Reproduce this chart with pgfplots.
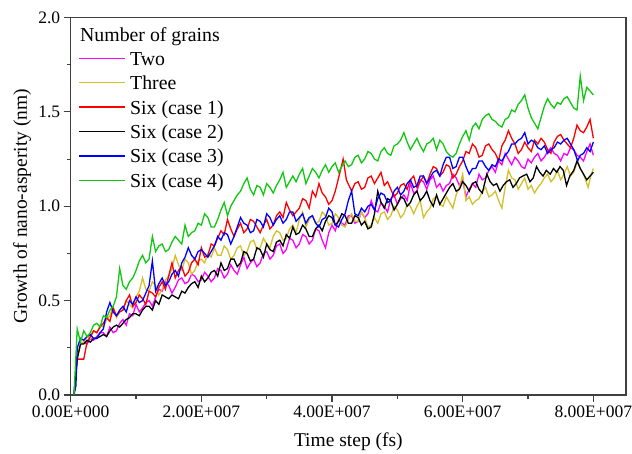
\documentclass[border=0pt]{standalone}
\usepackage{fontspec}
\setmainfont{Liberation Serif}
\usepackage{pgfplots}
\usepackage{pgfplotstable}
\pgfplotsset{compat=1.18}

\definecolor{cTwo}{HTML}{FF00FF}
\definecolor{cThree}{HTML}{D2C02C}
\definecolor{cSixA}{HTML}{FF0000}
\definecolor{cSixB}{HTML}{000000}
\definecolor{cSixC}{HTML}{0000FF}
\definecolor{cSixD}{HTML}{10C810}
\definecolor{axisgray}{HTML}{404040}

% time step t in units of 1e7 fs, growth g in nm
\pgfplotstableread{
t g
0.05 0.00
0.10 0.20
0.15 0.27
0.20 0.28
0.25 0.27
0.30 0.30
0.35 0.29
0.40 0.31
0.45 0.33
0.50 0.33
0.55 0.31
0.60 0.36
0.65 0.33
0.70 0.34
0.75 0.38
0.80 0.40
0.85 0.37
0.90 0.43
0.95 0.42
1.00 0.48
1.05 0.44
1.10 0.46
1.15 0.49
1.20 0.50
1.25 0.47
1.30 0.52
1.35 0.56
1.40 0.55
1.45 0.60
1.50 0.58
1.55 0.54
1.60 0.57
1.65 0.61
1.70 0.62
1.75 0.59
1.80 0.60
1.85 0.64
1.90 0.63
1.95 0.60
2.00 0.61
2.05 0.65
2.10 0.63
2.15 0.60
2.20 0.62
2.25 0.67
2.30 0.66
2.35 0.62
2.40 0.64
2.45 0.69
2.50 0.66
2.55 0.64
2.60 0.69
2.65 0.73
2.70 0.67
2.75 0.70
2.80 0.72
2.85 0.68
2.90 0.70
2.95 0.75
3.00 0.76
3.05 0.72
3.10 0.74
3.15 0.79
3.20 0.80
3.25 0.75
3.30 0.77
3.35 0.83
3.40 0.82
3.45 0.78
3.50 0.80
3.55 0.85
3.60 0.84
3.65 0.80
3.70 0.82
3.75 0.88
3.80 0.87
3.85 0.82
3.90 0.78
3.95 0.86
4.00 0.90
4.05 0.87
4.10 0.93
4.15 0.91
4.20 0.90
4.25 0.95
4.30 0.95
4.35 0.91
4.40 0.92
4.45 0.97
4.50 0.94
4.55 0.96
4.60 1.03
4.65 0.98
4.70 0.97
4.75 1.02
4.80 1.00
4.85 0.97
4.90 1.04
4.95 1.06
5.00 1.01
5.05 1.04
5.10 1.06
5.15 1.03
5.20 1.12
5.25 1.07
5.30 1.08
5.35 1.14
5.40 1.13
5.45 1.09
5.50 1.14
5.55 1.16
5.60 1.10
5.65 1.12
5.70 1.08
5.75 1.11
5.80 1.12
5.85 1.17
5.90 1.15
5.95 1.11
6.00 1.14
6.05 1.05
6.10 1.09
6.15 1.12
6.20 1.10
6.25 1.17
6.30 1.14
6.35 1.15
6.40 1.19
6.45 1.21
6.50 1.18
6.55 1.24
6.60 1.22
6.65 1.28
6.70 1.25
6.75 1.22
6.80 1.26
6.85 1.24
6.90 1.21
6.95 1.20
7.00 1.25
7.05 1.23
7.10 1.26
7.15 1.28
7.20 1.24
7.25 1.26
7.30 1.29
7.35 1.31
7.40 1.28
7.45 1.27
7.50 1.24
7.55 1.28
7.60 1.27
7.65 1.31
7.70 1.30
7.75 1.27
7.80 1.26
7.85 1.24
7.90 1.29
7.95 1.33
8.00 1.27
}\dataTwo

\pgfplotstableread{
t g
0.05 0.00
0.10 0.22
0.15 0.27
0.20 0.28
0.25 0.31
0.30 0.30
0.35 0.34
0.40 0.33
0.45 0.37
0.50 0.36
0.55 0.40
0.60 0.42
0.65 0.47
0.70 0.41
0.75 0.44
0.80 0.45
0.85 0.50
0.90 0.48
0.95 0.46
1.00 0.52
1.05 0.55
1.10 0.62
1.15 0.56
1.20 0.55
1.25 0.60
1.30 0.58
1.35 0.53
1.40 0.56
1.45 0.61
1.50 0.63
1.55 0.67
1.60 0.74
1.65 0.69
1.70 0.66
1.75 0.72
1.80 0.70
1.85 0.64
1.90 0.66
1.95 0.71
2.00 0.72
2.05 0.70
2.10 0.75
2.15 0.73
2.20 0.78
2.25 0.74
2.30 0.74
2.35 0.79
2.40 0.77
2.45 0.72
2.50 0.74
2.55 0.78
2.60 0.79
2.65 0.74
2.70 0.76
2.75 0.81
2.80 0.82
2.85 0.77
2.90 0.78
2.95 0.83
3.00 0.80
3.05 0.78
3.10 0.84
3.15 0.87
3.20 0.86
3.25 0.82
3.30 0.83
3.35 0.88
3.40 0.90
3.45 0.86
3.50 0.93
3.55 0.97
3.60 0.89
3.65 0.93
3.70 0.95
3.75 0.91
3.80 0.92
3.85 0.97
3.90 0.95
3.95 0.90
4.00 0.91
4.05 0.96
4.10 0.94
4.15 0.90
4.20 0.89
4.25 0.93
4.30 0.96
4.35 0.92
4.40 0.92
4.45 0.97
4.50 0.94
4.55 0.89
4.60 0.90
4.65 0.94
4.70 0.91
4.75 0.96
4.80 0.97
4.85 0.93
4.90 0.95
4.95 1.00
5.00 0.98
5.05 0.94
5.10 0.96
5.15 1.01
5.20 1.00
5.25 0.96
5.30 1.00
5.35 1.03
5.40 0.94
5.45 0.97
5.50 0.99
5.55 1.04
5.60 1.05
5.65 1.01
5.70 1.00
5.75 1.05
5.80 1.02
5.85 0.99
5.90 1.06
5.95 1.10
6.00 1.17
6.05 1.03
6.10 1.05
6.15 1.01
6.20 1.03
6.25 1.04
6.30 1.08
6.35 1.10
6.40 1.05
6.45 1.06
6.50 1.08
6.55 1.03
6.60 0.99
6.65 1.10
6.70 1.19
6.75 1.15
6.80 1.14
6.85 1.09
6.90 1.12
6.95 1.15
7.00 1.09
7.05 1.11
7.10 1.07
7.15 1.10
7.20 1.12
7.25 1.15
7.30 1.17
7.35 1.13
7.40 1.15
7.45 1.19
7.50 1.14
7.55 1.17
7.60 1.21
7.65 1.16
7.70 1.18
7.76 1.24
7.80 1.20
7.85 1.17
7.92 1.10
7.96 1.16
8.00 1.20
}\dataThree

\pgfplotstableread{
t g
0.05 0.00
0.10 0.19
0.20 0.19
0.25 0.28
0.30 0.31
0.35 0.34
0.40 0.33
0.45 0.36
0.50 0.38
0.55 0.41
0.60 0.39
0.65 0.46
0.70 0.42
0.75 0.44
0.80 0.45
0.85 0.50
0.90 0.53
0.95 0.47
1.00 0.49
1.05 0.53
1.10 0.51
1.15 0.48
1.20 0.55
1.25 0.54
1.30 0.52
1.35 0.57
1.40 0.60
1.45 0.56
1.50 0.63
1.55 0.70
1.60 0.62
1.65 0.66
1.70 0.68
1.75 0.63
1.80 0.65
1.85 0.70
1.90 0.72
1.95 0.69
2.00 0.78
2.05 0.73
2.10 0.74
2.15 0.80
2.20 0.79
2.25 0.83
2.30 0.87
2.35 0.85
2.40 0.93
2.45 0.88
2.50 0.84
2.55 0.88
2.60 0.91
2.65 0.86
2.70 0.88
2.75 0.93
2.80 0.92
2.85 0.89
2.90 0.86
2.95 0.90
3.00 0.93
3.05 0.88
3.10 0.90
3.15 0.95
3.20 0.97
3.25 0.94
3.30 1.02
3.35 0.98
3.40 0.95
3.45 0.97
3.50 0.99
3.55 1.04
3.60 1.03
3.65 0.99
3.70 1.08
3.75 1.05
3.80 1.12
3.85 1.07
3.90 1.05
3.95 1.01
4.00 1.03
4.05 1.08
4.10 1.15
4.17 1.25
4.22 1.14
4.30 1.08
4.35 1.12
4.40 1.13
4.45 1.09
4.50 1.10
4.55 1.15
4.60 1.16
4.65 1.12
4.70 1.15
4.75 1.18
4.80 1.11
4.85 1.13
4.90 1.09
4.95 1.05
5.00 1.07
5.05 1.11
5.10 1.12
5.15 1.09
5.20 1.14
5.25 1.16
5.30 1.10
5.35 1.13
5.40 1.16
5.45 1.12
5.50 1.17
5.55 1.21
5.60 1.20
5.65 1.16
5.70 1.18
5.75 1.22
5.80 1.21
5.85 1.15
5.90 1.17
5.95 1.21
6.00 1.24
6.05 1.29
6.10 1.28
6.15 1.33
6.20 1.31
6.25 1.26
6.30 1.27
6.35 1.32
6.40 1.33
6.45 1.30
6.50 1.28
6.55 1.24
6.60 1.32
6.65 1.35
6.70 1.40
6.75 1.36
6.80 1.33
6.85 1.28
6.90 1.30
6.95 1.34
7.00 1.31
7.05 1.29
7.10 1.35
7.15 1.33
7.20 1.36
7.25 1.34
7.30 1.30
7.35 1.28
7.40 1.34
7.45 1.37
7.50 1.38
7.55 1.35
7.60 1.33
7.65 1.31
7.70 1.36
7.75 1.43
7.80 1.40
7.85 1.39
7.90 1.42
7.95 1.46
8.00 1.36
}\dataSixA

\pgfplotstableread{
t g
0.05 0.00
0.10 0.19
0.15 0.27
0.20 0.27
0.25 0.29
0.30 0.28
0.35 0.30
0.40 0.30
0.45 0.31
0.50 0.32
0.55 0.31
0.60 0.34
0.65 0.36
0.70 0.37
0.75 0.36
0.80 0.38
0.85 0.40
0.90 0.41
0.95 0.43
1.00 0.43
1.05 0.42
1.10 0.45
1.15 0.47
1.20 0.47
1.25 0.45
1.30 0.50
1.35 0.48
1.40 0.53
1.45 0.52
1.50 0.51
1.55 0.53
1.60 0.52
1.65 0.51
1.70 0.55
1.75 0.54
1.80 0.57
1.85 0.59
1.90 0.60
1.95 0.57
2.00 0.63
2.05 0.60
2.10 0.62
2.15 0.65
2.20 0.66
2.25 0.63
2.30 0.70
2.35 0.66
2.40 0.67
2.45 0.72
2.50 0.72
2.55 0.68
2.60 0.70
2.65 0.76
2.70 0.75
2.75 0.71
2.80 0.72
2.85 0.78
2.90 0.77
2.95 0.73
3.00 0.80
3.05 0.77
3.10 0.76
3.15 0.81
3.20 0.82
3.25 0.79
3.30 0.85
3.35 0.83
3.40 0.89
3.45 0.85
3.50 0.86
3.55 0.90
3.60 0.88
3.65 0.84
3.70 0.84
3.75 0.88
3.80 0.90
3.85 0.87
3.90 0.92
3.95 0.95
4.00 0.94
4.05 0.90
4.10 0.92
4.15 0.96
4.20 0.95
4.25 0.91
4.30 0.91
4.35 0.95
4.40 0.94
4.45 0.90
4.50 0.92
4.55 0.88
4.60 0.89
4.65 0.96
4.70 1.08
4.75 1.02
4.80 0.99
4.85 1.04
4.90 1.03
4.95 0.98
5.00 1.01
5.05 1.05
5.10 1.04
5.15 1.00
5.20 1.02
5.25 1.06
5.30 1.08
5.35 1.03
5.40 1.05
5.45 1.08
5.50 1.03
5.55 1.00
5.60 1.06
5.65 1.01
5.70 1.04
5.75 1.07
5.80 1.10
5.85 1.12
5.90 1.08
5.95 1.09
6.00 1.13
6.05 1.11
6.10 1.08
6.15 1.12
6.20 1.13
6.25 1.09
6.30 1.07
6.37 1.17
6.42 1.13
6.47 1.11
6.52 1.12
6.57 1.08
6.62 1.11
6.67 1.13
6.72 1.14
6.77 1.10
6.82 1.12
6.87 1.15
6.92 1.16
6.98 1.17
7.03 1.13
7.08 1.15
7.13 1.21
7.18 1.18
7.23 1.16
7.28 1.19
7.34 1.17
7.39 1.20
7.44 1.18
7.49 1.21
7.54 1.19
7.59 1.11
7.64 1.16
7.70 1.19
7.75 1.24
7.80 1.20
7.85 1.17
7.90 1.14
7.95 1.16
8.00 1.18
}\dataSixB

\pgfplotstableread{
t g
0.05 0.00
0.08 0.05
0.10 0.25
0.15 0.30
0.20 0.29
0.25 0.31
0.30 0.32
0.35 0.30
0.40 0.30
0.45 0.33
0.50 0.35
0.55 0.44
0.60 0.49
0.65 0.44
0.70 0.42
0.75 0.45
0.80 0.47
0.85 0.44
0.90 0.50
0.95 0.48
1.00 0.52
1.05 0.49
1.10 0.50
1.15 0.54
1.20 0.58
1.25 0.71
1.30 0.55
1.35 0.59
1.40 0.62
1.45 0.58
1.50 0.60
1.55 0.64
1.60 0.66
1.65 0.63
1.70 0.70
1.75 0.73
1.80 0.78
1.85 0.74
1.90 0.72
1.95 0.76
2.00 0.77
2.05 0.75
2.10 0.73
2.15 0.76
2.20 0.79
2.25 0.84
2.30 0.82
2.35 0.86
2.40 0.85
2.45 0.80
2.50 0.84
2.55 0.89
2.60 0.94
2.65 0.91
2.70 0.90
2.75 0.86
2.80 0.87
2.85 0.93
2.90 0.92
2.95 0.89
3.00 0.96
3.05 0.94
3.10 0.90
3.15 0.93
3.20 0.95
3.25 0.91
3.30 0.93
3.35 0.97
3.40 0.97
3.45 0.92
3.50 0.94
3.55 0.96
3.60 0.91
3.65 0.94
3.70 0.95
3.75 0.91
3.80 0.89
3.85 0.93
3.90 0.94
3.95 0.99
4.00 0.97
4.05 0.90
4.10 0.89
4.15 0.93
4.20 0.96
4.25 1.03
4.30 1.08
4.35 0.96
4.40 0.95
4.45 0.99
4.50 0.97
4.55 1.00
4.60 1.01
4.65 0.98
4.70 1.04
4.75 1.07
4.80 1.06
4.85 1.02
4.90 1.03
4.95 1.08
5.00 1.10
5.05 1.06
5.10 1.08
5.15 1.12
5.20 1.14
5.25 1.10
5.30 1.11
5.35 1.16
5.40 1.16
5.45 1.12
5.50 1.15
5.55 1.18
5.60 1.19
5.65 1.16
5.70 1.22
5.75 1.26
5.80 1.26
5.85 1.20
5.90 1.21
5.95 1.26
6.00 1.26
6.05 1.21
6.10 1.17
6.15 1.20
6.20 1.20
6.25 1.24
6.30 1.24
6.35 1.21
6.40 1.19
6.45 1.22
6.50 1.21
6.55 1.25
6.60 1.24
6.65 1.27
6.70 1.29
6.75 1.33
6.80 1.33
6.85 1.35
6.90 1.36
6.95 1.39
7.00 1.33
7.05 1.35
7.10 1.34
7.15 1.31
7.20 1.30
7.25 1.32
7.30 1.28
7.35 1.30
7.40 1.31
7.45 1.34
7.50 1.33
7.55 1.35
7.60 1.36
7.65 1.33
7.70 1.30
7.76 1.24
7.80 1.27
7.85 1.28
7.90 1.31
7.95 1.29
8.00 1.34
}\dataSixC

\pgfplotstableread{
t g
0.05 0.00
0.10 0.35
0.15 0.28
0.20 0.34
0.25 0.31
0.30 0.33
0.35 0.37
0.40 0.38
0.45 0.36
0.50 0.42
0.55 0.41
0.60 0.45
0.65 0.47
0.70 0.52
0.75 0.67
0.80 0.58
0.85 0.56
0.90 0.60
0.95 0.62
1.00 0.66
1.05 0.71
1.10 0.74
1.15 0.70
1.20 0.72
1.25 0.84
1.30 0.76
1.35 0.79
1.40 0.80
1.45 0.76
1.50 0.77
1.55 0.81
1.60 0.84
1.65 0.82
1.70 0.80
1.75 0.90
1.80 0.84
1.85 0.86
1.90 0.87
1.95 0.91
2.00 0.90
2.05 0.96
2.10 0.94
2.15 0.89
2.20 0.89
2.25 0.93
2.30 0.98
2.35 1.02
2.40 0.95
2.45 1.00
2.50 1.03
2.55 1.06
2.60 1.08
2.65 1.12
2.70 1.15
2.75 1.09
2.80 1.06
2.85 1.11
2.90 1.10
2.95 1.06
3.00 1.12
3.05 1.10
3.10 1.07
3.15 1.11
3.20 1.14
3.25 1.18
3.30 1.10
3.35 1.13
3.40 1.16
3.45 1.13
3.50 1.17
3.55 1.20
3.60 1.12
3.65 1.16
3.70 1.20
3.75 1.18
3.80 1.15
3.85 1.19
3.90 1.22
3.95 1.18
4.00 1.21
4.05 1.23
4.10 1.18
4.15 1.21
4.20 1.24
4.25 1.21
4.30 1.22
4.35 1.26
4.40 1.27
4.45 1.23
4.50 1.25
4.55 1.29
4.60 1.28
4.65 1.25
4.70 1.24
4.75 1.29
4.80 1.31
4.85 1.28
4.90 1.27
4.95 1.32
5.00 1.33
5.05 1.35
5.10 1.39
5.15 1.34
5.20 1.30
5.25 1.33
5.30 1.36
5.35 1.32
5.40 1.29
5.45 1.33
5.50 1.34
5.55 1.36
5.60 1.30
5.65 1.35
5.70 1.33
5.75 1.29
5.80 1.27
5.85 1.26
5.90 1.28
5.95 1.33
6.00 1.37
6.05 1.40
6.10 1.35
6.15 1.42
6.20 1.44
6.25 1.41
6.30 1.46
6.35 1.48
6.40 1.49
6.45 1.46
6.50 1.45
6.55 1.43
6.60 1.42
6.65 1.46
6.70 1.47
6.75 1.51
6.80 1.50
6.85 1.54
6.90 1.56
6.95 1.59
7.00 1.52
7.05 1.47
7.10 1.44
7.15 1.41
7.20 1.47
7.25 1.53
7.30 1.57
7.35 1.54
7.40 1.52
7.45 1.55
7.50 1.54
7.55 1.57
7.60 1.58
7.65 1.55
7.70 1.52
7.75 1.51
7.80 1.69
7.85 1.56
7.90 1.63
7.95 1.61
8.00 1.59
}\dataSixD

\begin{document}
\begin{tikzpicture}
\begin{axis}[
    name=ax,
    scale only axis,
    width=555.3bp,
    height=377.5bp,
    xmin=0, xmax=8.5,
    ymin=0, ymax=2,
    xtick={0,2,4,6,8},
    xticklabels={0.00E+000,2.00E+007,4.00E+007,6.00E+007,8.00E+007},
    minor xtick={1,3,5,7},
    ytick={0,0.5,1,1.5,2},
    minor ytick={0.25,0.75,1.25,1.75},
    yticklabel style={/pgf/number format/.cd, fixed, fixed zerofill, precision=1,
        assume math mode=true},
    xtick pos=bottom,
    ytick pos=left,
    tick align=outside,
    major tick length=7bp,
    minor tick length=4bp,
    axis line style={axisgray, line width=1.3bp},
    tick style={axisgray, line width=1.1bp},
    tick label style={font=\fontsize{17.5bp}{20bp}\selectfont},
    label style={font=\fontsize{19.5bp}{22bp}\selectfont},
    xlabel={Time step (fs)},
    ylabel={Growth of nano-asperity (nm)},
    xlabel style={at={(axis description cs:0.5,-0.1351)}, anchor=base},
    ylabel style={at={(axis description cs:-0.0787,0.5)}, anchor=base},
    every axis plot/.append style={line width=1.3bp},
]
\addplot[color=cTwo] table[x=t, y=g] {\dataTwo};
\addplot[color=cThree] table[x=t, y=g] {\dataThree};
\addplot[color=cSixA] table[x=t, y=g] {\dataSixA};
\addplot[color=cSixB] table[x=t, y=g] {\dataSixB};
\addplot[color=cSixC] table[x=t, y=g] {\dataSixC};
\addplot[color=cSixD] table[x=t, y=g] {\dataSixD};
% legend: title, key lines and entry texts
\begin{scope}[every node/.style={anchor=base west, inner sep=0pt,
        font=\fontsize{19.8bp}{22bp}\selectfont}]
\node at (axis description cs:0.0167,0.9377) {Number of grains};
\draw[cTwo, line width=1.3bp] (axis description cs:0.01495,0.8919) -- (axis description cs:0.0969,0.8919);
\node at (axis description cs:0.1068,0.8734) {Two};
\draw[cThree, line width=1.3bp] (axis description cs:0.01495,0.8273) -- (axis description cs:0.0969,0.8273);
\node at (axis description cs:0.1068,0.8088) {Three};
\draw[cSixA, line width=1.3bp] (axis description cs:0.01495,0.7627) -- (axis description cs:0.0969,0.7627);
\node at (axis description cs:0.1068,0.7441) {Six (case 1)};
\draw[cSixB, line width=1.3bp] (axis description cs:0.01495,0.6980) -- (axis description cs:0.0969,0.6980);
\node at (axis description cs:0.1068,0.6795) {Six (case 2)};
\draw[cSixC, line width=1.3bp] (axis description cs:0.01495,0.6334) -- (axis description cs:0.0969,0.6334);
\node at (axis description cs:0.1068,0.6148) {Six (case 3)};
\draw[cSixD, line width=1.3bp] (axis description cs:0.01495,0.5687) -- (axis description cs:0.0969,0.5687);
\node at (axis description cs:0.1068,0.5502) {Six (case 4)};
\end{scope}
\end{axis}
\pgfresetboundingbox
\path ([xshift=-70.7bp,yshift=-58bp]ax.south west) rectangle ([xshift=6bp,yshift=17.5bp]ax.north east);
\end{tikzpicture}
\end{document}
